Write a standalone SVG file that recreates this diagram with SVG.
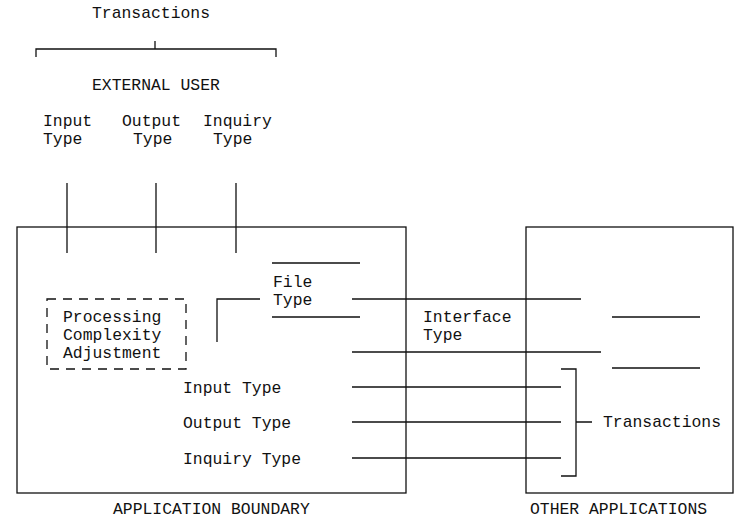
<svg xmlns="http://www.w3.org/2000/svg" width="736" height="520" viewBox="0 0 736 520">
  <style>
    .ln { stroke: #111; stroke-width: 1.3; fill: none; }
    .dash { stroke: #111; stroke-width: 1.3; fill: none; stroke-dasharray: 9 7; }
    text { font-family: "Liberation Mono", "DejaVu Sans Mono", monospace; font-size: 16.4px; fill: #111; }
  </style>
  <rect width="736" height="520" fill="#ffffff"/>

  <!-- external user with its transaction brace -->
  <g id="external-user">
    <text x="92" y="18">Transactions</text>
    <path class="ln" d="M36 57 V49 H276 V57 M155 49 V41"/>
    <text x="92" y="90">EXTERNAL USER</text>
    <text x="43" y="126">Input</text>
    <text x="43" y="144">Type</text>
    <text x="122" y="126">Output</text>
    <text x="133" y="144">Type</text>
    <text x="203" y="126">Inquiry</text>
    <text x="213" y="144">Type</text>
  </g>

  <!-- application boundary -->
  <g id="application-boundary">
    <rect class="ln" x="17" y="227" width="389" height="266"/>
    <text x="113" y="514">APPLICATION BOUNDARY</text>
  </g>

  <!-- processing complexity adjustment -->
  <g id="processing-complexity">
    <rect class="dash" x="47" y="299" width="139" height="70"/>
    <text x="63" y="322">Processing</text>
    <text x="63" y="340">Complexity</text>
    <text x="63" y="358">Adjustment</text>
  </g>

  <!-- internal file type -->
  <g id="file-type">
    <path class="ln" d="M272 263 H360 M272 317 H360"/>
    <text x="273" y="287">File</text>
    <text x="273" y="305">Type</text>
  </g>

  <!-- interface type -->
  <g id="interface-type">
    <text x="423" y="322">Interface</text>
    <text x="423" y="340">Type</text>
  </g>

  <!-- transaction labels inside the boundary -->
  <g id="input-type"><text x="183" y="393">Input Type</text></g>
  <g id="output-type"><text x="183" y="428">Output Type</text></g>
  <g id="inquiry-type"><text x="183" y="464">Inquiry Type</text></g>

  <!-- other applications -->
  <g id="other-applications">
    <rect class="ln" x="526" y="227" width="207" height="266"/>
    <path class="ln" d="M612 317 H700 M612 368 H700"/>
    <text x="530" y="514">OTHER APPLICATIONS</text>
  </g>

  <g id="transactions-out">
    <text x="603" y="427">Transactions</text>
  </g>

  <!-- connectors -->
  <g id="connectors">
    <path class="ln" d="M67 183 V253 M156 183 V253 M236 183 V253"/>
    <path class="ln" d="M217 342 V299 H260"/>
    <path class="ln" d="M352 299 H581"/>
    <path class="ln" d="M352 352 H601"/>
    <path class="ln" d="M352 387 H561 M352 422 H561 M352 458 H561"/>
    <path class="ln" d="M561 369 H576 V476 H561 M576 422 H592"/>
  </g>
</svg>
